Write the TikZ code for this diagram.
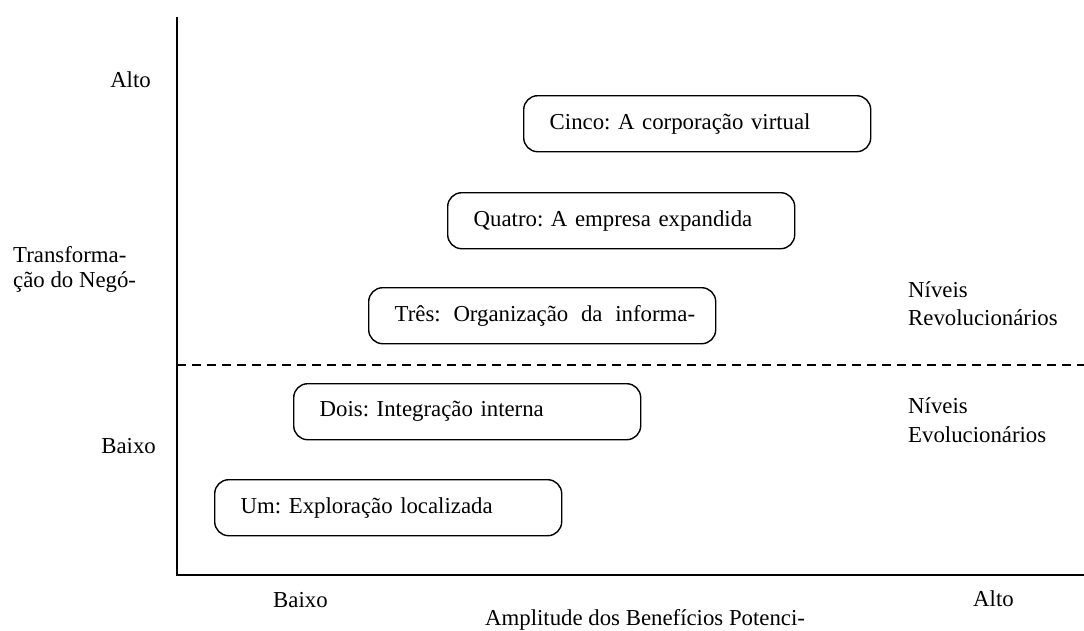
\documentclass[tikz,border=0pt]{standalone}
\usepackage{fontspec}
\setmainfont{Liberation Serif}
\frenchspacing
\newcommand{\lab}{\fontsize{22.8}{25}\selectfont}
\begin{document}
\begin{tikzpicture}[x=1pt,y=-1pt,
  level/.style={draw, line width=1.4pt, rounded corners=14pt,
    minimum width=347pt, minimum height=56pt, inner xsep=26pt, inner ysep=0pt,
    text width=295pt, align=left, anchor=north west, font=\lab},
  axislabel/.style={font=\lab, inner sep=0pt},
  axisline/.style={line width=1.8pt},
  divider/.style={line width=1.4pt, dash pattern=on 9pt off 6pt}]
  \useasboundingbox (0,0) rectangle (1084,630);

  % axes
  \coordinate (top) at (177,17);
  \coordinate (origin) at (177,575);
  \coordinate (right) at (1084,575);
  \draw[axisline] (top) -- (origin) -- (right);

  % boundary between evolutionary and revolutionary levels
  \coordinate (dl) at (177,365);
  \coordinate (dr) at (1084,365);
  \draw[divider] (dl) -- (dr);

  % the five levels
  \node[level] (cinco)  at (523,95)  {Cinco: A corporação virtual};
  \node[level] (quatro) at (447,192) {Quatro: A empresa expandida};
  \node[level] (tres)   at (368,287) {\mbox{Três:\hspace{0.56em}Organização\hspace{0.56em}da\hspace{0.56em}informa-}};
  \node[level] (dois)   at (293,383) {Dois: Integração interna};
  \node[level] (um)     at (214,479) {Um: Exploração localizada};

  % vertical axis labels
  \node[axislabel, anchor=base east] (yhigh) at (151,87) {Alto};
  \node[axislabel, anchor=base west] (ytitle1) at (13,262) {Transforma-};
  \node[axislabel, anchor=base west] (ytitle2) at (13,287) {ção do Negó-};
  \node[axislabel, anchor=base east] (ylow) at (156,453) {Baixo};

  % horizontal axis labels
  \node[axislabel, anchor=base west] (xlow) at (273,607) {Baixo};
  \node[axislabel, anchor=base west] (xhigh) at (973,606) {Alto};
  \node[axislabel, anchor=base west] (xtitle) at (485,625) {Amplitude dos Benefícios Potenci-};

  % level groups
  \node[axislabel, anchor=base west] (rev1) at (908,297) {Níveis};
  \node[axislabel, anchor=base west] (rev2) at (908,325) {Revolucionários};
  \node[axislabel, anchor=base west] (evo1) at (908,413) {Níveis};
  \node[axislabel, anchor=base west] (evo2) at (908,442) {Evolucionários};
\end{tikzpicture}
\end{document}
